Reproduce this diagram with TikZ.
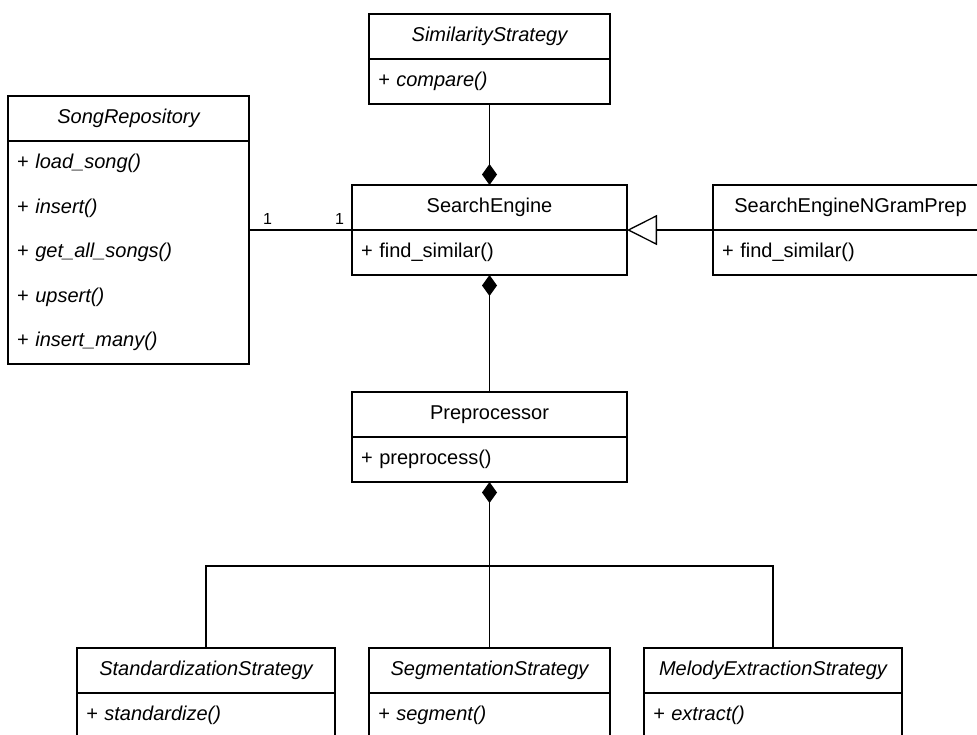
\documentclass[tikz,border=0pt]{standalone}
\usepackage{fontspec}
\setmainfont{Liberation Sans}
\usetikzlibrary{arrows.meta}
\usetikzlibrary{positioning}
\tikzset{ctitle/.style = {draw, inner sep = 0, outer sep = 0, minimum height = 22.5pt,
                          minimum width = #1, anchor = north west}}
\tikzset{cbody/.style = {draw, inner xsep = 4.5pt, inner ysep = 0, outer sep = 0,
                         minimum height = 22.5pt, text width = #1, align = left}}
\tikzset{comp/.style = {{Diamond[length = 10.5pt, width = 7.5pt]}-}}
\tikzset{inherit/.style = {-{Triangle[open, length = 15pt, width = 15pt]}}}
\tikzset{mult/.style = {above = 2.5pt, inner sep = 0, font = \fontsize{8}{9}\selectfont}}

\begin{document}
\begin{tikzpicture}[x = 0.5pt, y = -0.5pt, line width = 0.65pt]
      \useasboundingbox (0, 0) rectangle (977, 734);
      \clip (0, 0) rectangle (977, 734);

      % classes
      \node (sim) at (369, 14) [ctitle = 120.5pt, font = \itshape] {SimilarityStrategy};
      \node (simb) [below = 0pt of sim, cbody = 111.5pt, font = \itshape] {+ compare()};
      \node (repo) at (8, 96) [ctitle = 120.5pt, font = \itshape] {SongRepository};
      \node (repob) [below = 0pt of repo, cbody = 111.5pt, minimum height = 111.5pt,
                     font = \itshape\fontsize{10}{22.25}\selectfont]
            {+ load\_song()\\ + insert()\\ + get\_all\_songs()\\ + upsert()\\ + insert\_many()};
      \node (se) at (352, 185) [ctitle = 137.5pt] {SearchEngine};
      \node (seb) [below = 0pt of se, cbody = 128.5pt] {+ find\_similar()};
      \node (ng) at (713, 185) [ctitle = 137.5pt] {SearchEngineNGramPrep};
      \node (ngb) [below = 0pt of ng, cbody = 128.5pt] {+ find\_similar()};
      \node (pp) at (352, 392) [ctitle = 137.5pt] {Preprocessor};
      \node (ppb) [below = 0pt of pp, cbody = 128.5pt] {+ preprocess()};
      \node (st) at (77, 648) [ctitle = 129pt, font = \itshape] {StandardizationStrategy};
      \node (stb) [below = 0pt of st, cbody = 120pt, font = \itshape] {+ standardize()};
      \node (sg) at (369, 648) [ctitle = 120.5pt, font = \itshape] {SegmentationStrategy};
      \node (sgb) [below = 0pt of sg, cbody = 111.5pt, font = \itshape] {+ segment()};
      \node (me) at (644, 648) [ctitle = 129pt, font = \itshape] {MelodyExtractionStrategy};
      \node (meb) [below = 0pt of me, cbody = 120pt, font = \itshape] {+ extract()};

      % relations
      \draw [comp] (se.north) -- (simb.south);
      \draw [comp] (seb.south) -- (pp.north);
      \draw (repob.east |- se.south west) -- (se.south west)
            node [pos = 0.18, mult] {1} node [pos = 0.88, mult] {1};
      \draw [inherit] (ng.south west) -- (se.south east);
      \path (ppb.south) ++(0, 84) coordinate (fork);
      \draw [comp] (ppb.south) -- (fork);
      \draw (fork) -| (st.north);
      \draw (fork) -- (sg.north);
      \draw (fork) -| (me.north);
    \end{tikzpicture}
\end{document}
